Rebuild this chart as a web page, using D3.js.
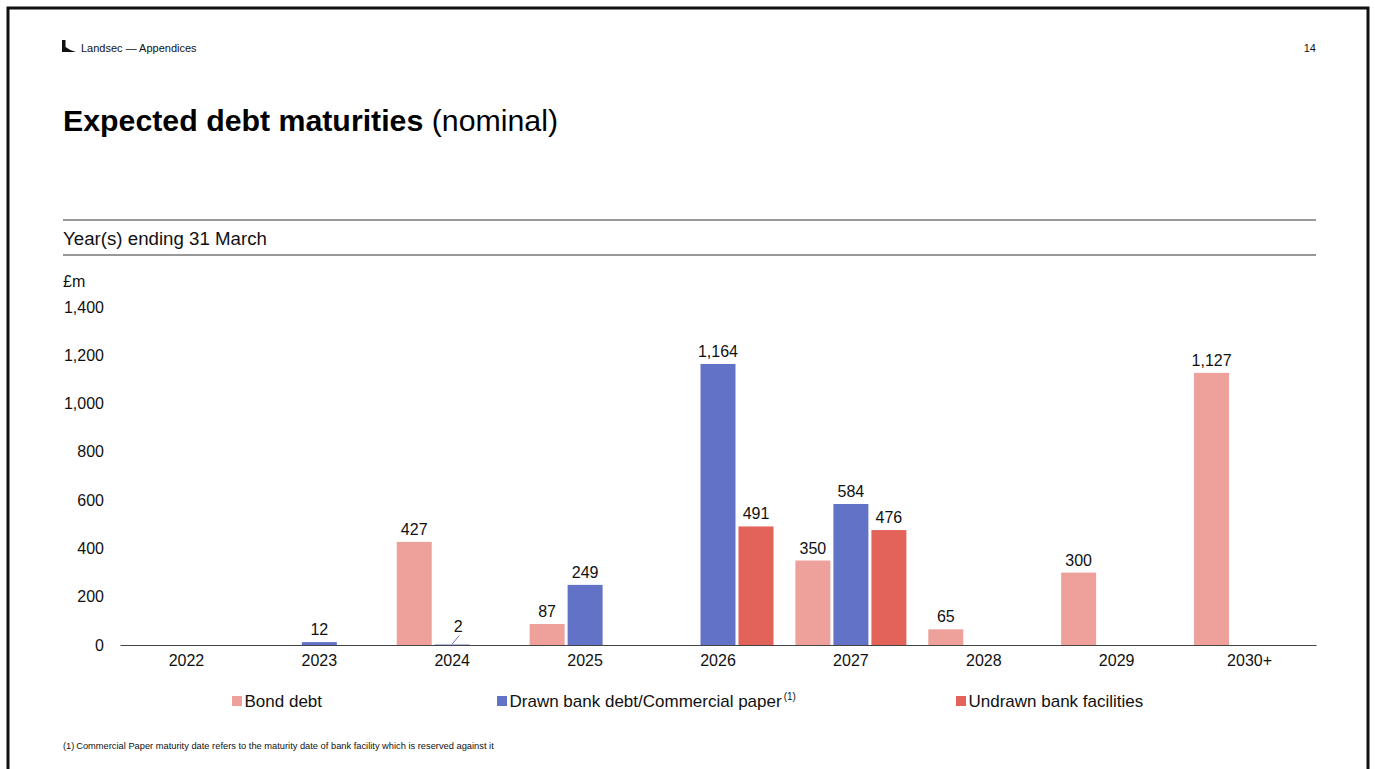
<!DOCTYPE html>
<html><head><meta charset="utf-8">
<script src="https://cdn.jsdelivr.net/npm/d3@7"></script>
<style>
html,body{margin:0;padding:0;background:#fff;}
svg{display:block;font-family:"Liberation Sans",Arial,sans-serif;}
</style></head>
<body>
<svg id="c" width="1375" height="769"></svg>
<script>
const categories = ["2022","2023","2024","2025","2026","2027","2028","2029","2030+"];
const seriesNames = ["Bond debt","Drawn bank debt/Commercial paper","Undrawn bank facilities"];
const bondDebt = [null,null,427,87,null,350,65,300,1127];
const drawnBank = [null,12,2,249,1164,584,null,null,null];
const undrawnBank = [null,null,null,null,491,476,null,null,null];
const yTicks = [0,200,400,600,800,1000,1200,1400];
const colors = ["#EDA19A","#6273C7","#E3625A"];

const svg = d3.select("#c");
const fmt = d3.format(",");

// frame
svg.append("rect").attr("x",8).attr("y",8).attr("width",1360).attr("height",800)
  .attr("fill","none").attr("stroke","#111").attr("stroke-width",3);

// header
svg.append("path").attr("d","M62,40 L65.5,40 L65.5,47 Q70,50.5 76,52 L62,52 Z").attr("fill","#111");
svg.append("text").attr("x",81).attr("y",52).attr("font-size",11).attr("fill","#111").text("Landsec \u2014 Appendices");
svg.append("text").attr("x",1316).attr("y",52).attr("font-size",11).attr("text-anchor","end").attr("fill","#111").text("14");

// title
const t = svg.append("text").attr("x",63).attr("y",131).attr("font-size",30.3).attr("fill","#000");
t.append("tspan").attr("font-weight","bold").text("Expected debt maturities");
t.append("tspan").text(" (nominal)");

// rules
[220,255].forEach(y=>svg.append("line").attr("x1",63).attr("x2",1316).attr("y1",y).attr("y2",y).attr("stroke","#333").attr("stroke-width",1));
svg.append("text").attr("x",63).attr("y",245).attr("font-size",18.7).attr("fill","#111").text("Year(s) ending 31 March");
svg.append("text").attr("x",63).attr("y",287).attr("font-size",16).attr("fill","#111").text("\u00a3m");

// scales
const x = d3.scaleBand().domain(categories).range([120,1316]).padding(0);
const inner = d3.scaleBand().domain(seriesNames).range([-55.5,55.5]).paddingInner(0.079).paddingOuter(0);
const y = d3.scaleLinear().domain([0,1400]).range([645,307]);

// y tick labels
const yAxis = d3.axisLeft(y).tickValues(yTicks).tickFormat(fmt).tickSize(0).tickPadding(0);
const ga = svg.append("g").attr("transform","translate(104,0)").call(yAxis);
ga.select(".domain").remove();
ga.selectAll("text").attr("font-size",16).attr("fill","#111").attr("font-family","Liberation Sans, Arial, sans-serif");

// bars
const allSeries = [bondDebt,drawnBank,undrawnBank];
const g = svg.append("g");
allSeries.forEach((vals,si)=>{
  const data = categories.map((c,i)=>({c,v:vals[i]})).filter(d=>d.v!=null);
  g.selectAll(null).data(data).enter().append("rect")
    .attr("x",d=>x(d.c)+x.bandwidth()/2+inner(seriesNames[si]))
    .attr("y",d=>y(d.v))
    .attr("width",inner.bandwidth())
    .attr("height",d=>y(0)-y(d.v))
    .attr("fill",colors[si]);
  data.forEach(d=>{
    const cx = x(d.c)+x.bandwidth()/2+inner(seriesNames[si])+inner.bandwidth()/2;
    if (d.v < 5) {
      svg.append("line").attr("x1",cx).attr("y1",y(d.v)-0.5).attr("x2",cx+7).attr("y2",y(d.v)-9)
        .attr("stroke",colors[si]).attr("stroke-width",1);
      svg.append("text").attr("x",cx+6).attr("y",y(d.v)-13).attr("text-anchor","middle")
        .attr("font-size",16).attr("fill","#111").text(fmt(d.v));
    } else {
      svg.append("text").attr("x",cx).attr("y",y(d.v)-7).attr("text-anchor","middle")
        .attr("font-size",16).attr("fill","#111").text(fmt(d.v));
    }
  });
});

// x axis
const xAxis = d3.axisBottom(x).tickSize(0).tickPadding(10);
const gx = svg.append("g").attr("transform","translate(0,645)").call(xAxis);
gx.select(".domain").attr("stroke","#444").attr("stroke-width",1);
gx.selectAll("text").attr("font-size",16).attr("fill","#111").attr("font-family","Liberation Sans, Arial, sans-serif");

// legend
const legX = [232,497,956];
seriesNames.forEach((n,i)=>{
  svg.append("rect").attr("x",legX[i]).attr("y",696).attr("width",10).attr("height",10).attr("fill",colors[i]);
  const tx = svg.append("text").attr("x",legX[i]+12.5).attr("y",707).attr("font-size",17).attr("fill","#111").text(n);
  if (i===1) tx.append("tspan").attr("font-size",10).attr("dy",-7).attr("dx",2).text("(1)");
});

// footnote
svg.append("text").attr("x",63).attr("y",749).attr("font-size",9.3).attr("fill","#111")
  .text("(1)\u2009Commercial Paper maturity date refers to the maturity date of bank facility which is reserved against it");
</script>
</body></html>
